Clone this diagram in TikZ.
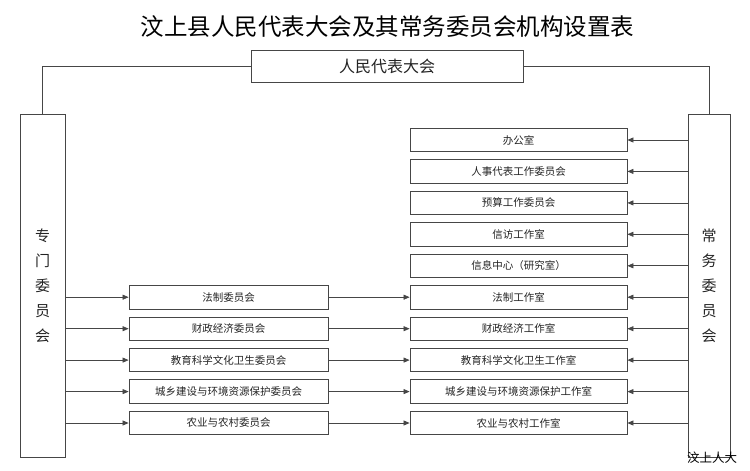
\documentclass[tikz,border=0pt]{standalone}
\usepackage{fontspec}
\setmainfont{Noto Sans CJK SC}
\usetikzlibrary{arrows.meta,positioning}
\definecolor{chartLine}{RGB}{70,70,70}
\definecolor{chartInk}{RGB}{35,35,35}

\begin{document}
\begin{tikzpicture}[x=1pt,y=-1pt,font=\fontsize{10.5}{12}\selectfont,
    unit/.style={draw=chartLine,line width=0.8pt,minimum height=23.5pt,
                 inner sep=0pt,text=chartInk},
    midunit/.style={unit,minimum width=199pt},
    workunit/.style={unit,minimum width=217pt},
    column/.style={draw=chartLine,line width=0.8pt,minimum height=343pt,
                   inner sep=0pt,align=center,text=chartInk,
                   font=\fontsize{15}{25}\selectfont},
    link/.style={chartLine,line width=0.75pt},
    arr/.style={link,-{Triangle[length=6pt,width=5pt]}}]

    \useasboundingbox (0,0) rectangle (750,471);

    % title and the congress
    \node[font=\fontsize{23.5}{26}\selectfont] (biaoti) at (387.5,27)
      {汶上县人民代表大会及其常务委员会机构设置表};
    \node[unit,minimum width=272pt,minimum height=32pt,
          font=\fontsize{16}{18}\selectfont] (daibiao) at (387,66) {人民代表大会};

    % the two columns
    \node[column,minimum width=45pt] (zhuanmen) at (42.5,285.5)
      {专\\门\\委\\员\\会};
    \node[column,minimum width=42pt] (changwei) at (709,285.5)
      {常\\务\\委\\员\\会};

    % special committees
    \node[midunit] (fazhiwei)   at (228.5,297.2) {法制委员会};
    \node[midunit] (caizhengwei) at (228.5,328.7) {财政经济委员会};
    \node[midunit] (jiaoyuwei)  at (228.5,360.1) {教育科学文化卫生委员会};
    \node[midunit] (chengxiangwei) at (228.5,391.6) {城乡建设与环境资源保护委员会};
    \node[midunit] (nongyewei)  at (228.5,423) {农业与农村委员会};

    % working bodies of the standing committee
    \node[workunit] (bangong)   at (518.5,140) {办公室};
    \node[workunit] (renshi)    at (518.5,171.4) {人事代表工作委员会};
    \node[workunit] (yusuan)    at (518.5,202.9) {预算工作委员会};
    \node[workunit] (xinfang)   at (518.5,234.3) {信访工作室};
    \node[workunit] (xinxi)     at (518.5,265.8) {信息中心（研究室）};
    \node[workunit] (fazhishi)  at (518.5,297.2) {法制工作室};
    \node[workunit] (caizhengshi) at (518.5,328.7) {财政经济工作室};
    \node[workunit] (jiaoyushi) at (518.5,360.1) {教育科学文化卫生工作室};
    \node[workunit] (chengxiangshi) at (518.5,391.6) {城乡建设与环境资源保护工作室};
    \node[workunit] (nongyeshi) at (518.5,423) {农业与农村工作室};

    % congress to both columns
    \draw[link] (daibiao.west) -| (zhuanmen.north);
    \draw[link] (daibiao.east) -| (changwei.north);

    % left column to committees
    \draw[arr] (zhuanmen.east |- fazhiwei) -- (fazhiwei.west);
    \draw[arr] (zhuanmen.east |- caizhengwei) -- (caizhengwei.west);
    \draw[arr] (zhuanmen.east |- jiaoyuwei) -- (jiaoyuwei.west);
    \draw[arr] (zhuanmen.east |- chengxiangwei) -- (chengxiangwei.west);
    \draw[arr] (zhuanmen.east |- nongyewei) -- (nongyewei.west);

    % committees to working offices
    \draw[arr] (fazhiwei.east) -- (fazhishi.west);
    \draw[arr] (caizhengwei.east) -- (caizhengshi.west);
    \draw[arr] (jiaoyuwei.east) -- (jiaoyushi.west);
    \draw[arr] (chengxiangwei.east) -- (chengxiangshi.west);
    \draw[arr] (nongyewei.east) -- (nongyeshi.west);

    % standing committee to its bodies
    \draw[arr] (changwei.west |- bangong) -- (bangong.east);
    \draw[arr] (changwei.west |- renshi) -- (renshi.east);
    \draw[arr] (changwei.west |- yusuan) -- (yusuan.east);
    \draw[arr] (changwei.west |- xinfang) -- (xinfang.east);
    \draw[arr] (changwei.west |- xinxi) -- (xinxi.east);
    \draw[arr] (changwei.west |- fazhishi) -- (fazhishi.east);
    \draw[arr] (changwei.west |- caizhengshi) -- (caizhengshi.east);
    \draw[arr] (changwei.west |- jiaoyushi) -- (jiaoyushi.east);
    \draw[arr] (changwei.west |- chengxiangshi) -- (chengxiangshi.east);
    \draw[arr] (changwei.west |- nongyeshi) -- (nongyeshi.east);

    % mark in the corner
    \node[font=\fontsize{12.5}{14}\selectfont] (shuiyin) at (712,458) {汶上人大};
\end{tikzpicture}
\end{document}
